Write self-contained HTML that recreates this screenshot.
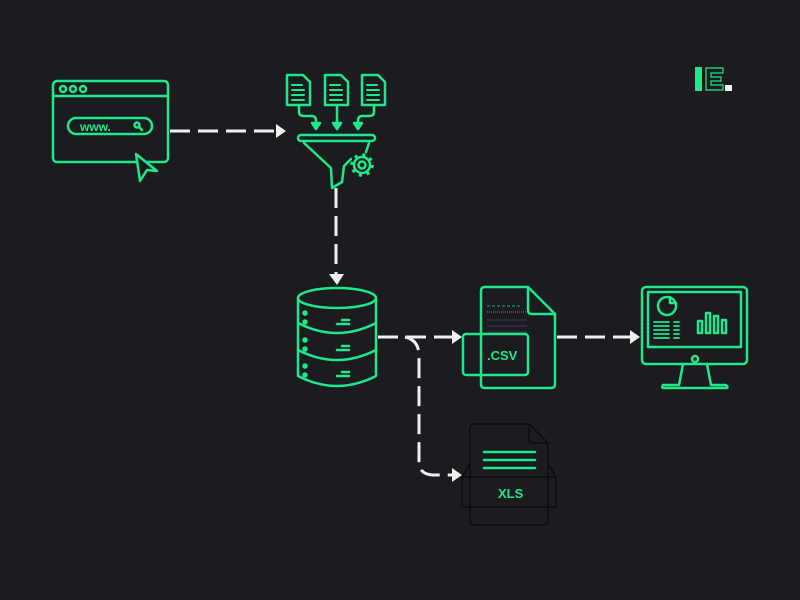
<!DOCTYPE html>
<html><head><style>
html,body{margin:0;padding:0;background:#1c1b20;}
svg{display:block;}
text{font-family:"Liberation Sans",sans-serif;font-weight:bold;}
</style></head><body>
<svg width="800" height="600" viewBox="0 0 800 600" xmlns="http://www.w3.org/2000/svg">
<rect width="800" height="600" fill="#1c1b20"/>
<g fill="none" stroke="#1de98b" stroke-width="2.5" stroke-linejoin="round" stroke-linecap="round">
 <!-- browser -->
 <rect x="53" y="81" width="115" height="81" rx="4"/>
 <line x1="53" y1="96" x2="168" y2="96"/>
 <circle cx="63" cy="89" r="3"/><circle cx="73" cy="89" r="3"/><circle cx="83" cy="89" r="3"/>
 <rect x="68" y="118" width="84" height="16" rx="8"/>
 <circle cx="137" cy="125" r="2.5"/><line x1="139" y1="127" x2="142" y2="130"/>
 <path d="M136 154 L157 171 L147 170 L140 181 Z" fill="#1c1b20"/>
 <!-- docs -->
 <g>
  <path d="M287 75 H303 L310 82 V105 H287 Z"/>
  <path d="M325 75 H341 L348 82 V105 H325 Z"/>
  <path d="M362 75 H378 L385 82 V105 H362 Z"/>
  <path d="M292 85h10M292 90h12M292 95h12M292 100h12M330 85h10M330 90h12M330 95h12M330 100h12M367 85h10M367 90h12M367 95h12M367 100h12" stroke-width="2"/>
  <path d="M299 106 V112 Q299 116 304 116 H312 Q316 116 316 121 V126"/>
  <line x1="337" y1="106" x2="337" y2="126"/>
  <path d="M374 106 V112 Q374 116 369 116 H362 Q358 116 358 121 V126"/>
 </g>
 <path d="M312 123 L316 129 L320 123 Z M333 123 L337 129 L341 123 Z M354 123 L358 129 L362 123 Z" fill="#1de98b"/>
 <!-- funnel -->
 <rect x="298" y="135" width="77" height="6" rx="3"/>
 <path d="M304 143 L331 168 L332 188 L342 182 L344 166 L351 159 M369 143 L366 152"/>
 <circle cx="362" cy="165" r="3.5"/>
 <circle cx="362" cy="165" r="8"/>
 <circle cx="362" cy="165" r="10" stroke-width="3.5" stroke-dasharray="3 4.85" stroke-linecap="butt"/>
 <!-- database -->
 <ellipse cx="337" cy="298" rx="39" ry="10"/>
 <path d="M298 298 V376 Q337 396 376 376 V298"/>
 <path d="M298 323 Q337 343 376 323 M298 350 Q337 370 376 350"/>
 <path d="M337 324h12M342 320h7M337 350h12M342 346h7M337 376h12M342 372h7"/>
 <circle cx="305" cy="313" r="1.5" fill="#1de98b"/><circle cx="305" cy="322" r="1.5" fill="#1de98b"/>
 <circle cx="305" cy="340" r="1.5" fill="#1de98b"/><circle cx="305" cy="349" r="1.5" fill="#1de98b"/>
 <circle cx="305" cy="366" r="1.5" fill="#1de98b"/><circle cx="305" cy="375" r="1.5" fill="#1de98b"/>
 <!-- csv -->
 <path d="M485 287 H528 L555 314 V384 Q555 388 551 388 H485 Q481 388 481 384 V291 Q481 287 485 287 Z"/>
 <path d="M528 287 V310 Q528 314 532 314 H555"/>
 <rect x="463" y="334" width="65" height="41" rx="3"/>
 <!-- monitor -->
 <rect x="642" y="287" width="105" height="77" rx="4"/>
 <rect x="648" y="292" width="93" height="55"/>
 <circle cx="695" cy="359" r="3"/>
 <path d="M683 364 L679 385 H663 Q661 388 664 388 H726 Q729 388 726 385 H711 L707 364"/>
 <circle cx="667" cy="306" r="9"/>
 <path d="M670 297 V303 H676"/>
 <path d="M654 322h15M654 326h15M654 330h15M654 334h15M654 338h15M674 322h5M674 326h5M674 330h5M674 334h5M674 338h5" stroke-width="1.8"/>
 <rect x="698" y="321" width="4" height="12"/><rect x="706" y="313" width="4" height="20"/>
 <rect x="714" y="316" width="4" height="17"/><rect x="722" y="320" width="4" height="13"/>
 <!-- xls lines -->
 <path d="M484 452h51M484 460h51M484 468h51"/>
</g>
<text x="80" y="131" fill="#1de98b" font-size="12">www.</text>
<text x="487" y="360" fill="#1de98b" font-size="13" font-weight="normal">.CSV</text>
<path d="M487 306h33" stroke="#1de98b" stroke-width="0.8" stroke-dasharray="3 2"/>
<path d="M487 312h40" stroke="#1de98b" stroke-width="0.8" stroke-dasharray="1 1"/>
<path d="M487 320h40M487 326h40M487 332h40" stroke="#3a3f55" stroke-width="1"/>
<!-- xls doc dark -->
<g fill="none" stroke="#0a0a0c" stroke-width="1.2">
 <path d="M474 424 H529 L548 443 V521 Q548 525 544 525 H474 Q470 525 470 521 V428 Q470 424 474 424 Z"/>
 <path d="M529 424 V439 Q529 443 533 443 H548"/>
 <path d="M470 464 L462 477 V507 H556 V477 L548 464 M462 477 H556"/>
</g>
<text x="498" y="498" fill="#1de98b" font-size="13">XLS</text>
<!-- connectors -->
<g fill="none" stroke="#f0f0f0" stroke-width="3" stroke-dasharray="20 8">
 <line x1="170" y1="131" x2="278" y2="131"/>
 <line x1="336" y1="188" x2="336" y2="274"/>
 <line x1="378" y1="337" x2="454" y2="337"/>
 <line x1="557" y1="337" x2="632" y2="337"/>
 <path d="M405 337 Q419 340 419 356 V462 Q419 475 435 475 H454"/>
</g>
<g fill="#f0f0f0">
 <path d="M276 124 L286 131 L276 138 Z"/>
 <path d="M329 274 L344 274 L337 285 Z"/>
 <path d="M452 330 L462 337 L452 344 Z"/>
 <path d="M630 330 L640 337 L630 344 Z"/>
 <path d="M452 468 L462 475 L452 482 Z"/>
</g>
<!-- logo -->
<rect x="695" y="67" width="7" height="24" fill="#1de98b"/>
<path d="M706 68 H723 V73 H711 V77 H721 V81 H711 V85 H723 V90 H706 Z" fill="none" stroke="#1de98b" stroke-width="1.2"/>
<rect x="725" y="85" width="7" height="6" fill="#f0f0f0"/>
</svg>
</body></html>
